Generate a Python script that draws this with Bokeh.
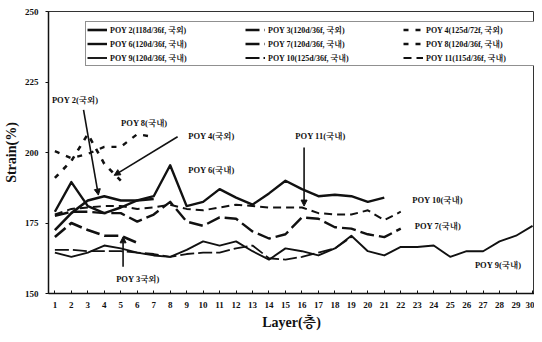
from bokeh.plotting import figure
from bokeh.models import (Legend, LegendItem, Range1d, FixedTicker, Label,
                          Arrow, NormalHead)
from bokeh.embed import file_html
from bokeh.resources import INLINE

# ---------------- data ----------------
layer_ticks = list(range(1, 31))
y_ticks = [150, 175, 200, 225, 250]

poy2 = [172.5, 178.5, 183, 184.5, 183, 183, 183.5]
poy3 = [170, 175, 172.5, 170.5, 170.5, 168]
poy4 = [191, 197, 206.5, 196, 190]
poy6 = [179, 189.5, 181, 178.5, 180.5, 183, 184.5, 195.5, 181, 182.5, 187,
        184, 181.5, 185.5, 190, 187, 184.5, 185, 184.5, 182.5, 184]
poy7 = [177.5, 179, 179, 178.5, 178.5, 175.5, 178, 182.5, 175.5, 174, 177,
        176.5, 172, 169.5, 171, 177, 176.5, 173.5, 173, 171, 170, 173]
poy8 = [200.5, 198, 199.5, 202, 202, 206.5, 205.5]
poy9 = [164.5, 163, 164.5, 167, 166, 164.5, 163.5, 163, 165.5, 168.5, 167,
        168.5, 165, 162, 166, 165, 163.5, 166, 170.5, 165, 163.5, 166.5,
        166.5, 167, 163, 165, 165, 168.5, 170.5, 174]
poy10 = [165.5, 165.5, 165, 165, 165, 164.5, 164, 163, 164, 164.5, 164.5,
         166, 167, 162.5, 162, 163, 164.5, 166, 170]
poy11 = [178, 180, 180.5, 181, 181, 180, 180.5, 181.5, 180, 179.5, 180.5,
         181.5, 181, 180.5, 180.5, 180.5, 178.5, 178, 178, 179.5, 176, 179]

series_names = ["POY 2(118d/36f, 국외)", "POY 3(120d/36f, 국외)", "POY 4(125d/72f, 국외)",
                "POY 6(120d/36f, 국내)", "POY 7(120d/36f, 국내)", "POY 8(120d/36f, 국내)",
                "POY 9(120d/36f, 국내)", "POY 10(125d/36f, 국내)", "POY 11(115d/36f, 국내)"]
series_values = [poy2, poy3, poy4, poy6, poy7, poy8, poy9, poy10, poy11]

# in-chart callouts: (text, layer, value)
callouts = [("POY 2(국외)", 0.82, 218.7), ("POY 8(국내)", 5.02, 210.6),
            ("POY 4(국외)", 9.1, 206.0), ("POY 6(국내)", 9.1, 193.7),
            ("POY 11(국내)", 15.6, 206.0), ("POY 10(국내)", 22.7, 183.1),
            ("POY 7(국내)", 22.85, 173.9), ("POY 9(국내)", 26.5, 160.2),
            ("POY 3국외)", 4.72, 155.3)]
# arrows: (x_start, y_start, x_end, y_end)
arrows = [(2.74, 215.1, 3.64, 184.9), (8.45, 205.6, 4.6, 191.9),
          (16.13, 201.8, 16.13, 181.0), (5.14, 159.5, 5.14, 170.1)]

# ---------------- styles ----------------
styles = [("solid", 2.6), ("14 5", 2.6), ("5 7", 2.6),
          ("solid", 2.4), ("14 5", 2.4), ("5 7", 2.4),
          ("solid", 1.9), ("14 4", 1.8), ("8 5", 2.0)]
FONT = "'Liberation Serif', 'Noto Serif CJK KR', 'Noto Sans CJK KR', serif"
INK = "#111111"

p = figure(width=534, height=333, output_backend="svg", toolbar_location=None,
           x_range=Range1d(0.6125, 30.12), y_range=Range1d(150, 250),
           min_border_left=39, min_border_right=0, min_border_top=11,
           min_border_bottom=40)
p.background_fill_color = "white"
p.border_fill_color = "white"
p.outline_line_color = "#333333"
p.outline_line_width = 1
p.xgrid.visible = False
p.ygrid.visible = False

items = []
for name, vals, (dash, w) in zip(series_names, series_values, styles):
    r = p.line(layer_ticks[:len(vals)], vals, line_color=INK, line_width=w,
               line_dash=dash, line_join="round", line_cap="butt")
    items.append(LegendItem(label=name, renderers=[r]))

legend = Legend(items=items, ncols=3, orientation="horizontal",
                location=(37, 227), glyph_width=20, glyph_height=13,
                label_height=13, label_width=134, label_standoff=3,
                spacing=1, padding=1, margin=0,
                border_line_color="#222222", border_line_width=1.2,
                background_fill_alpha=1, label_text_font=FONT,
                label_text_font_size="8px", label_text_font_style="bold",
                label_text_color=INK)
p.add_layout(legend, "center")

for txt, lx, ly in callouts:
    p.add_layout(Label(x=lx, y=ly, text=txt, text_font=FONT,
                       text_font_size="8.5px", text_font_style="bold",
                       text_color=INK, text_baseline="middle",
                       text_align="left"))
for xs, ys, xe, ye in arrows:
    p.add_layout(Arrow(x_start=xs, y_start=ys, x_end=xe, y_end=ye,
                       line_color=INK, line_width=1.6,
                       end=NormalHead(size=6, fill_color=INK, line_color=INK)))

p.xaxis.ticker = FixedTicker(ticks=layer_ticks)
p.yaxis.ticker = FixedTicker(ticks=y_ticks)
for ax in (p.xaxis[0], p.yaxis[0]):
    ax.axis_line_color = INK
    ax.axis_line_width = 1.5
    ax.minor_tick_line_color = None
    ax.major_tick_line_color = INK
    ax.major_label_text_font = FONT
    ax.major_label_text_font_size = "9px"
    ax.major_label_text_font_style = "bold"
    ax.major_label_text_color = INK
    ax.axis_label_text_font = FONT
    ax.axis_label_text_font_style = "bold"
    ax.axis_label_text_font_size = "14px"
    ax.axis_label_text_color = INK

p.xaxis.major_tick_in = 3
p.xaxis.major_tick_out = 0
p.xaxis.major_label_standoff = 8
p.xaxis.axis_label = "Layer(층)"
p.xaxis.axis_label_standoff = 4

p.yaxis.major_tick_in = 0
p.yaxis.major_tick_out = 3
p.yaxis.major_label_standoff = 7
p.yaxis.axis_label = "Strain(%)"
p.yaxis.axis_label_standoff = 3

open("out.html", "w").write(file_html(p, INLINE))
